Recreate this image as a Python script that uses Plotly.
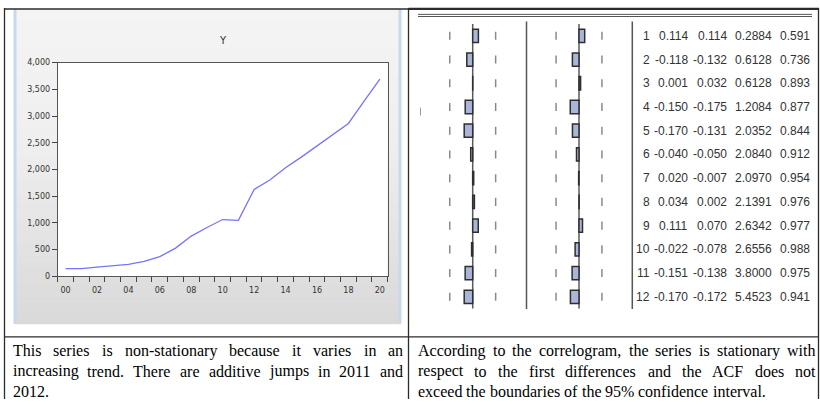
import math
import plotly.graph_objects as go

W, H = 820, 404

# ---- Series Y (annual, 2000-2020) ----
years = list(range(2000, 2021))
y_values = [140, 140, 170, 190, 220, 275, 365, 525, 750, 910, 1060,
            1045, 1625, 1800, 2030, 2230, 2440, 2650, 2860, 3280, 3690]
y_ticks = [0, 500, 1000, 1500, 2000, 2500, 3000, 3500, 4000]
x_label_years = list(range(2000, 2021, 2))

# ---- Correlogram of first differences ----
lags = list(range(1, 13))
acf = [0.114, -0.118, 0.001, -0.150, -0.170, -0.040, 0.020, 0.034, 0.111, -0.022, -0.151, -0.170]
pacf = [0.114, -0.132, 0.032, -0.175, -0.131, -0.050, -0.007, 0.002, 0.070, -0.078, -0.138, -0.172]
q_stat = [0.2884, 0.6128, 0.6128, 1.2084, 2.0352, 2.0840, 2.0970, 2.1391, 2.6342, 2.6556, 3.8000, 5.4523]
prob = [0.591, 0.736, 0.893, 0.877, 0.844, 0.912, 0.954, 0.976, 0.977, 0.988, 0.975, 0.941]
n_obs = 19
bound = 2 / math.sqrt(n_obs)

# ---- Table text ----
left_lines = ["This series is non-stationary because it varies in an",
              "increasing trend. There are additive jumps in 2011 and",
              "2012."]
right_lines = ["According to the correlogram, the series is stationary with",
               "respect to the first differences and the ACF does not",
               "exceed the boundaries of the 95% confidence interval."]


def fx(px):
    return px / W


def fy(py):
    return 1 - py / H


shapes = []
annotations = []


def pline(x0, y0, x1, y1, color="#2b2b2b", width=1.3):
    shapes.append(dict(type="line", xref="paper", yref="paper",
                       x0=fx(x0), y0=fy(y0), x1=fx(x1), y1=fy(y1),
                       line=dict(color=color, width=width)))


def prect(x0, y0, x1, y1, fill, layer="below"):
    shapes.append(dict(type="rect", xref="paper", yref="paper",
                       x0=fx(x0), y0=fy(y0), x1=fx(x1), y1=fy(y1),
                       fillcolor=fill, line=dict(width=0), layer=layer))


# ---- graph panel with vertical gradient ----
def mix(c0, c1, t):
    return "rgb({},{},{})".format(*[round(a + (b - a) * t) for a, b in zip(c0, c1)])


top_c, mid_c, bot_c = (244, 244, 244), (239, 239, 239), (217, 217, 217)
panel_top, panel_bot, panel_mid = 5, 327, 140
step = 6
yy = panel_top
while yy < panel_bot:
    y2 = min(yy + step, panel_bot)
    c = (yy + y2) / 2
    if c < panel_mid:
        col = mix(top_c, mid_c, (c - panel_top) / (panel_mid - panel_top))
    else:
        col = mix(mid_c, bot_c, (c - panel_mid) / (panel_bot - panel_mid))
    prect(14, yy, 401, y2 + 0.6, col)
    yy = y2
prect(13.5, panel_top, 16.5, panel_bot, "#c6d9f0")
prect(398.5, panel_top, 401.5, panel_bot, "#c6d9f0")

# plot area of the line graph
PX0, PX1, PY0, PY1 = 57.7, 387.7, 60, 278.3
prect(PX0, PY0, PX1, PY1, "white")

annotations.append(dict(text="Y", xref="paper", yref="paper", x=fx(222.5), y=fy(37),
                        showarrow=False, font=dict(family="DejaVu Sans", size=10, color="#333"),
                        xanchor="center", yanchor="middle"))

# ---- table borders ----
pline(4.5, 4, 4.5, 404)
pline(408.5, 4, 408.5, 404)
pline(818.5, 4, 818.5, 404)
pline(4, 5, 408.5, 5, width=1.5)
pline(408.5, 5, 819, 5, width=2.2)
pline(4, 340.5, 819, 340.5)

# correlogram header rules and separators
pline(418, 10.6, 812, 10.6, color="#555", width=1)
pline(418, 12.8, 812, 12.8, color="#555", width=1)
pline(526.5, 18, 526.5, 312, color="#555", width=1.5)
pline(632.3, 18, 632.3, 312, color="#555", width=1.5)
pline(420.5, 106, 420.5, 114, color="#999", width=1)

# correlogram zero axes and confidence marks
for xr in ("x2", "x3"):
    shapes.append(dict(type="line", xref=xr, yref="y2", x0=0, x1=0, y0=0.5, y1=12.5,
                       line=dict(color="#5a5a5a", width=1.5), layer="below"))
    for k in lags:
        for s in (-1, 1):
            shapes.append(dict(type="line", xref=xr, yref="y2", x0=s * bound, x1=s * bound,
                               y0=k - 0.17, y1=k + 0.17,
                               line=dict(color="#8a8a8a", width=1.5)))

# correlogram numbers
num_font = dict(family="Liberation Sans", size=12, color="#333")
columns = [
    (650, [str(k) for k in lags]),
    (688, [f"{v:.3f}" for v in acf]),
    (727, [f"{v:.3f}" for v in pacf]),
    (772, [f"{v:.4f}" for v in q_stat]),
    (810, [f"{v:.3f}" for v in prob]),
]
for xr, texts in columns:
    for k, t in zip(lags, texts):
        annotations.append(dict(text=t, xref="paper", yref="y2", x=fx(xr), y=k,
                                xanchor="right", yanchor="middle", showarrow=False,
                                font=num_font, borderpad=0, borderwidth=0))

# ---- justified serif text in the lower row ----
TNR = {" ": 250, ".": 250, ",": 250, "-": 333, "%": 833,
       "A": 722, "C": 667, "F": 556, "T": 611,
       "a": 444, "b": 500, "c": 444, "d": 500, "e": 444, "f": 333, "g": 500, "h": 500,
       "i": 278, "j": 278, "k": 500, "l": 278, "m": 778, "n": 500, "o": 500, "p": 500,
       "q": 500, "r": 333, "s": 389, "t": 278, "u": 500, "v": 500, "w": 722, "x": 500,
       "y": 500, "z": 444}
FS = 16


def wwidth(word):
    return sum(TNR.get(ch, 500) for ch in word) * FS / 1000


def place_paragraph(lines, x_left, x_right, y_first, lead):
    for i, line in enumerate(lines):
        words = line.split(" ")
        widths = [wwidth(w) for w in words]
        last = i == len(lines) - 1
        if last or len(words) == 1:
            gap = TNR[" "] * FS / 1000
        else:
            gap = (x_right - x_left - sum(widths)) / (len(words) - 1)
        x = x_left
        for w, wd in zip(words, widths):
            annotations.append(dict(text=w, xref="paper", yref="paper", x=fx(x), y=fy(y_first + i * lead),
                                    xanchor="left", yanchor="middle", showarrow=False,
                                    borderpad=0, borderwidth=0,
                                    font=dict(family="Liberation Serif", size=FS, color="#000")))
            x += wd + gap


place_paragraph(left_lines, 12.5, 403.5, 354.5, 21)
place_paragraph(right_lines, 418, 815.5, 354.5, 21)

# ---- traces ----
fig = go.Figure()
fig.add_trace(go.Scatter(x=years, y=y_values, mode="lines",
                         line=dict(color="#7474ff", width=1.3), showlegend=False))
fig.add_trace(go.Bar(x=acf, y=lags, orientation="h", xaxis="x2", yaxis="y2", width=0.56,
                     marker=dict(color="#aab5da", line=dict(color="#2e2e2e", width=1.5)),
                     showlegend=False))
fig.add_trace(go.Bar(x=pacf, y=lags, orientation="h", xaxis="x3", yaxis="y2", width=0.56,
                     marker=dict(color="#aab5da", line=dict(color="#2e2e2e", width=1.5)),
                     showlegend=False))

tick_font = dict(family="DejaVu Sans", size=8, color="#333")
half = 30 / 50  # 50 px per unit of correlation
fig.update_layout(
    width=W, height=H, margin=dict(l=0, r=0, t=0, b=0),
    paper_bgcolor="white", plot_bgcolor="rgba(0,0,0,0)",
    shapes=shapes, annotations=annotations,
    xaxis=dict(domain=[fx(PX0), fx(PX1)], range=[1999.5, 2020.5], anchor="y",
               tickmode="array", tickvals=x_label_years,
               ticktext=[f"{y % 100:02d}" for y in x_label_years],
               ticks="", ticklabelstandoff=6, tickfont=tick_font,
               minor=dict(tickmode="array", tickvals=[y + 0.5 for y in range(1999, 2021)],
                          ticks="outside", ticklen=5, tickcolor="#444", tickwidth=1),
               showline=True, mirror=True, linecolor="#555", linewidth=1,
               showgrid=False, zeroline=False, fixedrange=True),
    yaxis=dict(domain=[fy(PY1), fy(PY0)], range=[0, 4000], anchor="x",
               tickmode="array", tickvals=y_ticks, tickformat=",d",
               ticks="outside", ticklen=5, tickcolor="#444", tickwidth=1, tickfont=tick_font,
               showline=True, mirror=True, linecolor="#555", linewidth=1,
               showgrid=False, zeroline=False, fixedrange=True),
    xaxis2=dict(domain=[fx(472.7 - 30), fx(472.7 + 30)], range=[-half, half], anchor="y2",
                visible=False, fixedrange=True),
    xaxis3=dict(domain=[fx(579 - 30), fx(579 + 30)], range=[-half, half], anchor="y2",
                visible=False, fixedrange=True),
    yaxis2=dict(domain=[fy(311.6), fy(20.4)], range=[12.5, 0.5], anchor="x2",
                visible=False, fixedrange=True),
)

fig.write_html("out.html")
